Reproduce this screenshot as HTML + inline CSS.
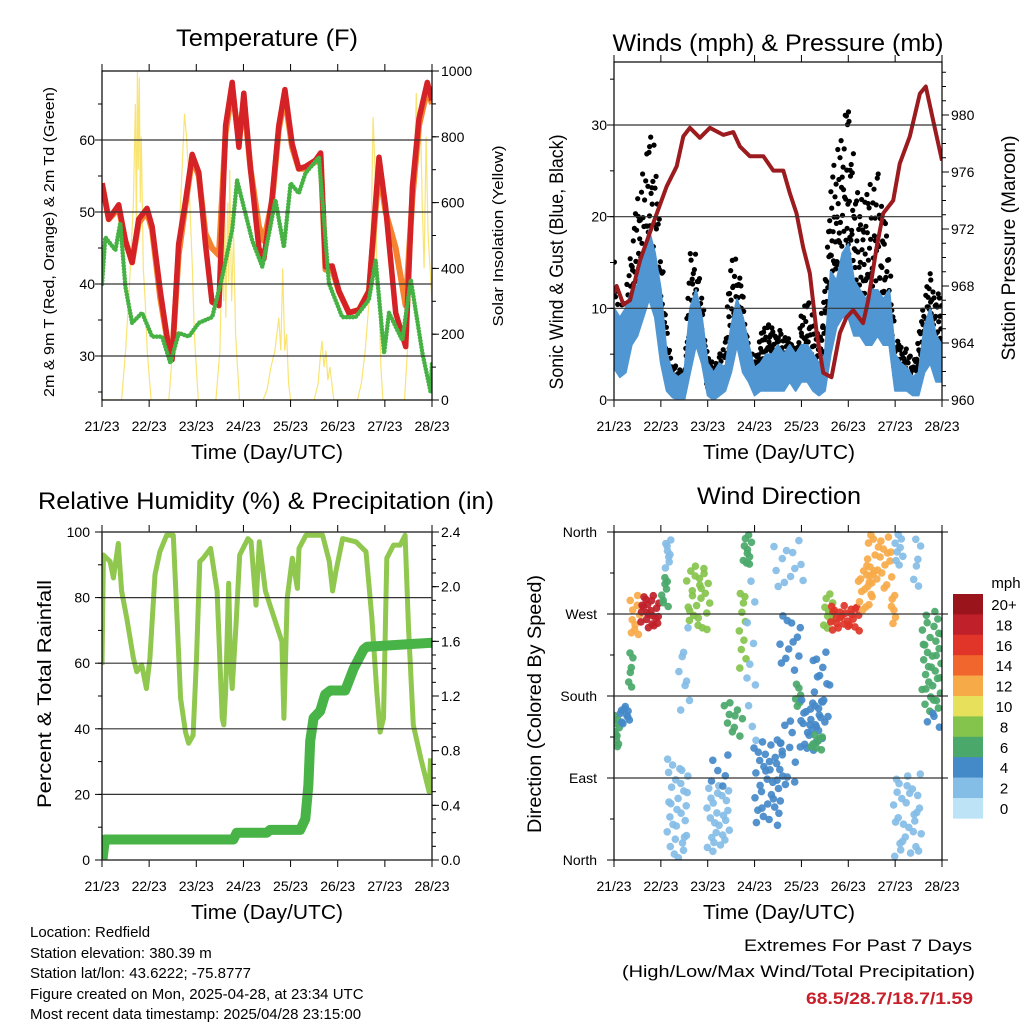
<!DOCTYPE html>
<html><head><meta charset="utf-8"><style>
html,body{margin:0;padding:0;background:#fff;}
svg{display:block;font-family:"Liberation Sans",Arial,sans-serif;}
</style></head><body>
<svg id="fig" width="1024" height="1024" viewBox="0 0 1024 1024" xmlns="http://www.w3.org/2000/svg">
<g id="layer-marks"></g>
<g id="layer-axes"></g>
<g fill="#000">
<text x="267" y="46" font-size="24" text-anchor="middle" textLength="182" lengthAdjust="spacingAndGlyphs">Temperature (F)</text>
<text x="778" y="51" font-size="24" text-anchor="middle" textLength="331" lengthAdjust="spacingAndGlyphs">Winds (mph) &amp; Pressure (mb)</text>
<text x="266" y="509" font-size="24" text-anchor="middle" textLength="456" lengthAdjust="spacingAndGlyphs">Relative Humidity (%) &amp; Precipitation (in)</text>
<text x="779" y="504" font-size="24" text-anchor="middle" textLength="164" lengthAdjust="spacingAndGlyphs">Wind Direction</text>
<text x="267" y="459" font-size="20" text-anchor="middle" textLength="152" lengthAdjust="spacingAndGlyphs">Time (Day/UTC)</text>
<text x="779" y="459" font-size="20" text-anchor="middle" textLength="152" lengthAdjust="spacingAndGlyphs">Time (Day/UTC)</text>
<text x="267" y="919" font-size="20" text-anchor="middle" textLength="152" lengthAdjust="spacingAndGlyphs">Time (Day/UTC)</text>
<text x="779" y="919" font-size="20" text-anchor="middle" textLength="152" lengthAdjust="spacingAndGlyphs">Time (Day/UTC)</text>
<text transform="translate(54,242) rotate(-90)" font-size="15" text-anchor="middle" textLength="310" lengthAdjust="spacingAndGlyphs">2m &amp; 9m T (Red, Orange) &amp; 2m Td (Green)</text>
<text transform="translate(503,236) rotate(-90)" font-size="15" text-anchor="middle" textLength="181" lengthAdjust="spacingAndGlyphs">Solar Insolation (Yellow)</text>
<text transform="translate(563,262) rotate(-90)" font-size="19" text-anchor="middle" textLength="255" lengthAdjust="spacingAndGlyphs">Sonic Wind &amp; Gust (Blue, Black)</text>
<text transform="translate(1015,248) rotate(-90)" font-size="19" text-anchor="middle" textLength="225" lengthAdjust="spacingAndGlyphs">Station Pressure (Maroon)</text>
<text transform="translate(51,694) rotate(-90)" font-size="19" text-anchor="middle" textLength="228" lengthAdjust="spacingAndGlyphs">Percent &amp; Total Rainfall</text>
<text transform="translate(541,704) rotate(-90)" font-size="19" text-anchor="middle" textLength="258" lengthAdjust="spacingAndGlyphs">Direction (Colored By Speed)</text>
</g>
<g font-size="15" fill="#000">
<text x="30" y="937">Location: Redfield</text>
<text x="30" y="958">Station elevation: 380.39 m</text>
<text x="30" y="978">Station lat/lon: 43.6222; -75.8777</text>
<text x="30" y="999">Figure created on Mon, 2025-04-28, at 23:34 UTC</text>
<text x="30" y="1019">Most recent data timestamp: 2025/04/28 23:15:00</text>
</g>
<g font-size="17" text-anchor="end">
<text x="972" y="951" textLength="228" lengthAdjust="spacingAndGlyphs">Extremes For Past 7 Days</text>
<text x="975" y="977" textLength="353" lengthAdjust="spacingAndGlyphs">(High/Low/Max Wind/Total Precipitation)</text>
<text x="973" y="1004" font-weight="bold" fill="#c8202a" textLength="167" lengthAdjust="spacingAndGlyphs">68.5/28.7/18.7/1.59</text>
</g>
</svg>
<script>
// ---------- DATA ----------
const dayLabels = ["21/23","22/23","23/23","24/23","25/23","26/23","27/23","28/23"];
const tempHours = [0,3.4,8.5,11.9,15.3,18.7,22.9,25.5,29.7,34,35.7,39,42.5,45.9,49.3,52.7,56,59.5,62.9,66.3,69.7,72.2,75.6,79.9,82.4,86.6,90,93.1,96.8,100.2,103.6,108.7,111.3,113.8,117.2,120.6,125.7,130.8,135.9,141,144.4,149.5,154.6,158,161.4,165.6,168];
const temp2m = [54,49,51,46,43,49,50.5,48,39,31,29.5,45.5,51.5,58,55.5,45.5,37.5,37,62,68,59,66.5,56,45,43.5,52,62,67,59.5,56,56.3,57.2,58.2,42.4,42.5,39,36,36.4,39,57.6,50.7,36,31.3,53.5,63,68,65.5];
const temp9m = [54,49,50.5,46,43,48.5,50,47.5,38,31,30,44,51,57.5,55,47,45,44,61,67,60,65.5,56,48,46,51.5,61.5,66,59,56,56,57,58,42,42,39,36,36.4,39,56,50,45,37,52,62,67,65];
const dewHours = [0,1.7,6.8,9.3,11.9,15.3,20.4,25.5,30.6,34.8,39.1,44.2,49.3,56.1,61.2,66.3,68.8,72.2,76.5,81.6,85,88.3,92.6,96,100.2,103.6,110.4,113,115.5,122.3,129.1,135.9,139.3,143.6,146.1,152.9,157.2,163.1,167.3,168];
const dewPoint = [40,46.5,44.7,48.5,39.6,34.6,36,32.7,32.7,29,33.2,32.7,34.6,35.4,41,47.5,54.4,50.7,46,42.4,47,51.7,45.1,54,52.6,55.4,57.6,48.9,40.1,35.4,35.4,37.8,43.3,30.4,36,32.2,40.6,30.4,25,29];
const solarHours = [0,10,12,14,16,17,17.5,18,18.5,19,19.5,20,21,22,23,25,34,36,38,40,42,43,44,46,47,49,58,60,61,62,62.5,63,64,64.5,65,66,67,68,69,70,82,84,86,88,90,91,92,93,94,95,96,108,110,111,112,113,114,115,116,118,130,132,134,136,137,138,139,140,141,142,143,154,156,158,159,160,161,162,163,164,165,166,168];
const solarValues = [0,0,150,350,600,900,500,1000,700,980,600,800,400,300,150,0,0,150,350,600,870,800,700,400,200,0,0,150,400,300,650,250,600,350,700,300,500,200,100,0,0,30,100,150,250,150,400,150,200,50,0,0,50,120,180,100,150,60,100,0,0,50,150,300,500,860,700,400,300,100,0,0,200,500,700,933,750,900,600,400,800,500,300];

const windHours = [0,3,6,9,12,15,18,21,24,27,30,33,36,39,42,45,48,51,54,57,60,63,66,69,72,75,78,81,84,87,90,93,96,99,102,105,108,111,114,117,120,123,126,129,132,135,138,141,144,147,150,153,156,159,162,165,168];
const sustainedLow = [3.5,2.5,3,6,7,9,11,9,4,1,0.3,0,0,3,6,4,0.5,0,0.5,1,3,6,3,2,0.5,1,1,1,1,1,2,1,2,2,1,0.5,1,5,8,9,9,7,7,6,6,7,6,6,1,1,1,0.5,0.5,3,4,2,2];
const sustainedHigh = [10,9,10,12,12.5,16,18.5,16,12,5,3,2.5,3,10,12,9,4,3,4,3.5,8,11,9,6,3.5,4,5,5,6,5,6,5,6,6,5,4,5,14,13,16,17,13,12,11,12,12,11,12,5,4,3.5,2.5,3,8,10,7,6];
const gustLow = [6,4,5,8,10,12,14,12,8,2,1,1,1,7,8,5,1,1,1,2,6,8,6,3,2,3,4,3,3,3,4,3,4,4,3,2,5,14,14,15,16,14,10,12,10,10,10,8,2,2,2,1,2,6,7,6,6];
const gustHigh = [17,10,12,18,22,26,31,28,18,8,4,3.5,3,17,16,12,5,4,5,7,17,15,12,6,4.5,7,9,8,8,7,7,5,10,12,9,7,13,25,27,30,34,26,22,23,24,25,22,17,7,6,6,4,7,12,14,12,11];
const pressHours = [0,1.4,4.8,8.2,13.3,20.1,27,32.1,35.5,38.9,44,49.1,56,61.1,64.5,69.6,76.5,81.6,86.7,90.1,93.5,96.9,100.3,103.8,107.2,111.4,115.7,119.1,122.5,127.6,130.2,134.5,137.9,143,146.4,151.5,156.7,159.7,163.5,168];
const pressure = [967.5,968,966.7,967,969.8,972.4,975,976.4,978.5,979.1,978.4,979.1,978.6,978.8,977.8,977.1,977.1,976.1,976.1,974.5,973.1,970.7,968.9,964.7,961.9,961.6,964.7,965.8,966.3,965.4,967,970.7,973.1,974,976.6,978.5,981.5,982,979.6,976.8];

const rhHours = [0,0.7,4.1,5.8,8.3,10,12.6,16,17.7,20.2,22.6,24.4,27,29.5,32.9,36.3,38,40,42.5,44.1,46.4,48.1,49.8,51.5,55.3,58.6,61.2,62,62.9,64.5,65.4,66.3,68.2,70.1,74.3,75.9,78.4,80.1,83.2,91.6,92.6,94.3,96.9,99.5,100.3,103.8,112.3,115.7,117.4,119.1,122.5,129.3,134.4,137.4,139.9,141.6,143.3,145,148.4,151.8,154.3,156,158.5,162.3,166.5,167.3];
const rhValues = [59.5,93,91,86,96.5,82,73.7,61.5,57.4,59.5,52.3,61.5,87,94,99,99,76.7,49.3,39,35.6,38,61.5,91,92,95,82,43.2,41.2,51.3,84.4,59.5,52.3,71.6,93,98,97,77.7,97,82,66.6,43.2,79.8,92,82.8,95,99,99,91,82,88,98,97,94,73.7,51.3,39,43.2,92,96,96,99,71.6,41.2,31,20.8,31];
const precipHours = [0,0.3,1.5,66.9,68.6,83.9,85.6,100.9,103.5,105.1,106,107.7,111.1,113.6,116.2,123.8,128.1,133.2,134.9,168];
const precipTotal = [0,0.01,0.15,0.15,0.2,0.2,0.22,0.22,0.3,0.55,0.87,1.04,1.09,1.21,1.24,1.24,1.4,1.54,1.56,1.59];

// wind direction clusters (observed groups of points)
const dirStartH = [0,3.1,7.3,8.2,13.3,24.4,26.1,27,32.9,37.2,47.4,49.1,56,63.7,66.2,67.9,71.3,79.9,85,83.3,92.7,95.2,100.3,102,107.2,110.6,124.2,129.4,141.3,143.9,143,153.2,157.5,160.1];
const dirEndH = [3.1,8.2,9.9,13.3,23.5,27.8,29.5,38.1,38.9,49.1,59.4,59.4,66.2,67.9,70.5,73,86.7,96.9,96.9,93.5,96.1,107.2,107.2,110.6,112.3,125.9,132.8,143,144.7,148.1,157.5,157.5,168,166.9];
const dirLow = [123,148,181,247,254,276,317,2,163,251,9,75,134,203,324,112,38,298,203,82,163,119,119,148,251,251,273,298,258,317,2,287,163,145];
const dirHigh = [163,170,229,295,291,313,353,112,258,324,82,126,177,295,360,317,130,357,273,155,199,177,138,229,295,280,324,357,294,360,97,353,273,163];
const dirSpeed = [6,4,6,11,17,5,2,2,2,8,2.5,3,6,7,6,1.5,3,1.5,3,4,6,4,6,3,8,16,11,12,12,1,2.5,1,5,3];
const dirCount = [10,10,6,10,22,8,8,30,8,25,25,6,10,10,10,10,35,12,12,12,6,25,8,15,10,25,15,25,6,8,30,6,35,4];

const speedBins = ["0","2","4","6","8","10","12","14","16","18","20+"];
const binColors = ["#bde3f7","#84bde6","#4489c8","#4aa86a","#84c44c","#e6e05a","#f7aa48","#f1662c","#e03528","#c0202a","#99151b"];

// ---------- HELPERS ----------
const NS="http://www.w3.org/2000/svg";
const marks=document.getElementById('layer-marks');
const axes=document.getElementById('layer-axes');
function el(tag,attrs,parent){const e=document.createElementNS(NS,tag);for(const k in attrs)e.setAttribute(k,attrs[k]);(parent||marks).appendChild(e);return e;}
function lin(d0,d1,r0,r1){return v=>r0+(v-d0)*(r1-r0)/(d1-d0);}
// Halton low-discrepancy placement (deterministic spread within an observed range)
function halton(i,b){let f=1,r=0;while(i>0){f/=b;r+=f*(i%b);i=Math.floor(i/b);}return r;}

const P1={x0:102,x1:432,y0:71,y1:400};
const P2={x0:614,x1:942,y0:62,y1:400};
const P3={x0:102,x1:432,y0:532,y1:860};
const P4={x0:614,x1:942,y0:532,y1:860};
const x1s=lin(0,168,P1.x0,P1.x1), x2s=lin(0,168,P2.x0,P2.x1), x3s=lin(0,168,P3.x0,P3.x1), x4s=lin(0,168,P4.x0,P4.x1);
const tS=lin(30,60,356,140), solS=lin(0,1000,400,71);
const wS=lin(0,30,400,125), pS=lin(960,980,400,115);
const rhS=lin(0,100,860,532), prS=lin(0,2.4,860,532);
const dS=lin(0,360,860,532);

function pts(xs,ys,xf,yf){return xs.map((h,i)=>xf(h).toFixed(1)+','+yf(ys[i]).toFixed(1)).join(' ');}
function colorFor(s){let i=Math.min(10,Math.max(0,Math.floor((s+1)/2)));return binColors[i];}

let defs=el('defs',{},document.getElementById('fig'));
[[1,P1],[2,P2],[3,P3],[4,P4]].forEach(([n,P])=>{const c=el('clipPath',{id:'c'+n},defs);el('rect',{x:P.x0,y:P.y0-2,width:P.x1-P.x0,height:P.y1-P.y0+2},c);});
let e,g;

// ---------- PANEL 1 ----------
g=el('g',{'clip-path':'url(#c1)'});


e=el('polyline',{points:pts(solarHours,solarValues,x1s,solS),fill:'none',stroke:'#f8df5a','stroke-width':1.2,'stroke-opacity':0.85},g);

e=el('polyline',{points:pts(tempHours,temp9m,x1s,tS),fill:'none',stroke:'#f4822e','stroke-width':6,'stroke-linejoin':'round'},g);

e=el('polyline',{points:pts(tempHours,temp2m,x1s,tS),fill:'none',stroke:'#d42226','stroke-width':5.5,'stroke-linejoin':'round'},g);

e=el('polyline',{points:pts(dewHours,dewPoint,x1s,tS),fill:'none',stroke:'#46b244','stroke-width':4.5,'stroke-linecap':'round','stroke-dasharray':'0 3.2','stroke-linejoin':'round'},g);


// ---------- PANEL 2 ----------
g=el('g',{'clip-path':'url(#c2)'});


let gi=1;
for(let k=0;k<windHours.length-1;k++){
  for(let i=0;i<16;i++){
    const t=halton(gi,2), u=halton(gi,3); gi++;
    const h=windHours[k]+t*(windHours[k+1]-windHours[k]);
    const lo=gustLow[k]+t*(gustLow[k+1]-gustLow[k]), hi=gustHigh[k]+t*(gustHigh[k+1]-gustHigh[k]);
    const v=lo+(hi-lo)*Math.pow(u,1.3);
    e=el('circle',{cx:x2s(h).toFixed(1),cy:wS(v).toFixed(1),r:2.6,fill:'#000'},g);
    
    
  }
}
{
  const up=windHours.map((h,i)=>x2s(h).toFixed(1)+','+wS(sustainedHigh[i]).toFixed(1));
  const dn=windHours.map((h,i)=>x2s(h).toFixed(1)+','+wS(sustainedLow[i]).toFixed(1)).reverse();
  e=el('polygon',{points:up.concat(dn).join(' '),fill:'#4f96d2',stroke:'#4f96d2','stroke-width':2,'stroke-linejoin':'round'},g);
  
}
e=el('polyline',{points:pts(pressHours,pressure,x2s,pS),fill:'none',stroke:'#9b1b1e','stroke-width':4,'stroke-linejoin':'round'},g);


// ---------- PANEL 3 ----------
g=el('g',{'clip-path':'url(#c3)'});


e=el('polyline',{points:pts(rhHours,rhValues,x3s,rhS),fill:'none',stroke:'#8fc74f','stroke-width':5,'stroke-linejoin':'round'},g);

e=el('polyline',{points:pts(precipHours,precipTotal,x3s,prS),fill:'none',stroke:'#48b346','stroke-width':10,'stroke-linejoin':'round','stroke-linecap':'round'},g);


// ---------- PANEL 4 ----------
g=el('g',{'clip-path':'url(#c4)'});


let di=1;
for(let c=0;c<dirStartH.length;c++){
  for(let i=0;i<dirCount[c];i++){
    const t=halton(di,2), u=halton(di,3); di++;
    const h=dirStartH[c]+t*(dirEndH[c]-dirStartH[c]);
    const d=dirLow[c]+u*(dirHigh[c]-dirLow[c]);
    e=el('circle',{cx:x4s(h).toFixed(1),cy:dS(d).toFixed(1),r:3.8,fill:colorFor(dirSpeed[c]),'fill-opacity':0.92},g);
    
    
  }
}

// ---------- AXES ----------
function line(x1,y1,x2,y2,attrs){return el('line',Object.assign({x1,y1,x2,y2,stroke:'#000','stroke-width':1},attrs||{}),axes);}
function text(x,y,s,anchor,size){const t=el('text',{x,y,'font-size':size||14,'text-anchor':anchor||'middle',fill:'#000'},axes);t.textContent=s;return t;}
function frame(P,name){const r=el('rect',{x:P.x0,y:P.y0,width:P.x1-P.x0,height:P.y1-P.y0,fill:'none',stroke:'#000','stroke-width':1.2},axes);}
function xAxis(P,xs,labY){
  dayLabels.forEach((lab,i)=>{const x=xs(i*24);line(x,P.y1,x,P.y1+7);line(x,P.y0,x,P.y0-7);
    const t=text(x,labY,lab,'middle',14);
    });
}
function yLeft(P,vals,sc,labels,minor,grid,lx){
  minor.forEach(v=>{const y=sc(v);if(y>=P.y0-1&&y<=P.y1+1)line(P.x0-4,y,P.x0,y);});
  vals.forEach((v,i)=>{const y=sc(v);line(P.x0-7,y,P.x0,y);
    if(grid)line(P.x0,y,P.x1,y,{stroke:'#333','stroke-width':1.2});
    const t=text(lx,y+5,labels[i],'end',14);
    });
}
function yRight(P,vals,sc,labels,minor,lx){
  minor.forEach(v=>{const y=sc(v);if(y>=P.y0-1&&y<=P.y1+1)line(P.x1,y,P.x1+4,y);});
  vals.forEach((v,i)=>{const y=sc(v);line(P.x1,y,P.x1+7,y);
    const t=text(lx,y+5,labels[i],'start',14);
    });
}
function range(a,b,s){const r=[];for(let v=a;v<=b+1e-9;v+=s)r.push(+v.toFixed(3));return r;}

frame(P1,'temperature-frame');xAxis(P1,x1s,431);
yLeft(P1,[30,40,50,60],tS,["30","40","50","60"],range(25,65,5),true,95);
yRight(P1,range(0,1000,200),solS,["0","200","400","600","800","1000"],range(0,1000,100),441);

frame(P2,'winds-frame');xAxis(P2,x2s,431);
yLeft(P2,[0,10,20,30],wS,["0","10","20","30"],range(0,35,5),true,607);
yRight(P2,range(960,980,4),pS,["960","964","968","972","976","980"],range(960,983,1),951);

frame(P3,'rh-frame');xAxis(P3,x3s,891);
yLeft(P3,range(0,100,20),rhS,["0","20","40","60","80","100"],range(0,100,10),true,90);
yRight(P3,range(0,2.4,0.4),prS,["0.0","0.4","0.8","1.2","1.6","2.0","2.4"],range(0,2.4,0.1),441);

frame(P4,'direction-frame');xAxis(P4,x4s,891);
yLeft(P4,[0,90,180,270,360],dS,["North","East","South","West","North"],range(0,360,45),false,597);
[90,180,270].forEach(v=>line(P4.x0,dS(v),P4.x1,dS(v),{stroke:'#333','stroke-width':1.2}));
[0,90,180,270,360].forEach(v=>line(P4.x1,dS(v),P4.x1+6,dS(v)));

const cb=el('g',{},axes);


const cbTop=594,cbH=20.4;
for(let i=0;i<speedBins.length;i++){
  const idx=speedBins.length-1-i;
  const r=el('rect',{x:953,y:(cbTop+i*cbH).toFixed(1),width:30,height:cbH+0.3,fill:binColors[idx]},cb);
  
  
  const t=el('text',{x:1004,y:(cbTop+i*cbH+16).toFixed(1),'font-size':15,'text-anchor':'middle'},cb);
  t.textContent=speedBins[idx];
  
  
}
const mt=el('text',{x:1006,y:588,'font-size':15,'text-anchor':'middle'},cb);
mt.textContent='mph';


</script>
</body></html>
